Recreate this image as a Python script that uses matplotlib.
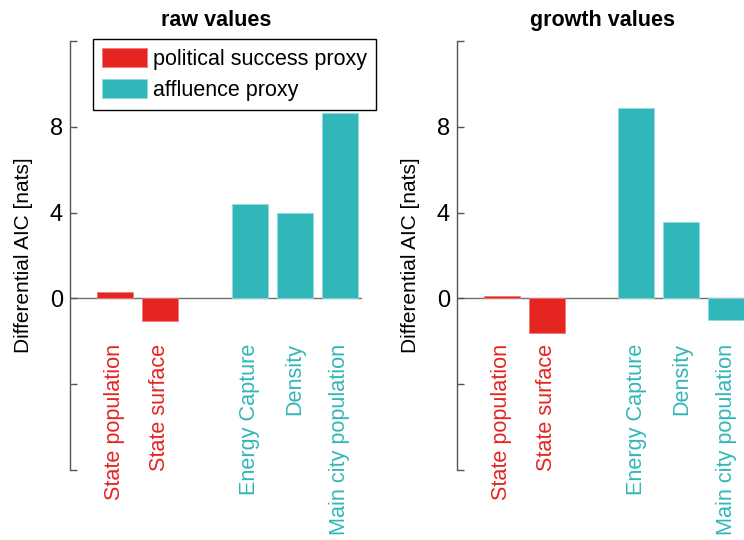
import numpy as np
import matplotlib
matplotlib.use("Agg")
import matplotlib.pyplot as plt
from matplotlib.patches import Patch

plt.rcParams['font.family'] = ['Liberation Sans', 'DejaVu Sans']

# proxies shown on the x axis (gap between the two groups)
categories = ['State population', 'State surface',
              'Energy Capture', 'Density', 'Main city population']
positions = [1, 2, 4, 5, 6]
groups = ['political', 'political', 'affluence', 'affluence', 'affluence']

# differential AIC [nats]
raw_values = [0.3, -1.05, 4.4, 4.0, 8.65]
growth_values = [0.1, -1.6, 8.87, 3.54, -1.0]

RED = '#e52522'
TEAL = '#31b7b9'
col = {'political': RED, 'affluence': TEAL}
edge = {'political': '#f07a78', 'affluence': '#8fdcdc'}

fig = plt.figure(figsize=(7.44, 5.40), dpi=100)
ax1 = fig.add_axes([70 / 744, 1 - 470 / 540, 292 / 744, 429 / 540])
ax2 = fig.add_axes([456.7 / 744, 1 - 470 / 540, 292 / 744, 429 / 540])


def panel(ax, vals, title):
    colors = [col[g] for g in groups]
    edges = [edge[g] for g in groups]
    ax.bar(positions, vals, width=0.8, color=colors, edgecolor=edges,
           linewidth=0.6, zorder=2)
    ax.axhline(0, color='#707070', lw=1.0, zorder=1)
    ax.set_xlim(0, 6.5)
    ax.set_ylim(-8, 12)
    ax.set_yticks([-8, -4, 0, 4, 8, 12])
    ax.set_yticklabels(['', '', '0', '4', '8', ''])
    ax.set_xticks([])
    for s in ['top', 'right', 'bottom']:
        ax.spines[s].set_visible(False)
    ax.spines['left'].set_color('#555555')
    ax.spines['left'].set_linewidth(1.0)
    ax.tick_params(axis='y', direction='in', length=5, width=1.0,
                   color='#555555', labelsize=17, pad=5)
    ax.set_ylabel('Differential AIC [nats]', fontsize=15)
    ax.yaxis.set_label_coords(-0.125, 0.5)
    ax.set_title(title, fontsize=15.5, fontweight='bold', pad=11)
    for x, name, g in zip(positions, categories, groups):
        ax.text(x, -2.1, name, rotation=90, ha='center', va='top',
                fontsize=15.6, color=col[g])


panel(ax1, raw_values, 'raw values')
panel(ax2, growth_values, 'growth values')

handles = [Patch(facecolor=RED, edgecolor='#f07a78', lw=0.6),
           Patch(facecolor=TEAL, edgecolor='#8fdcdc', lw=0.6)]
leg = ax1.legend(handles, ['political success proxy', 'affluence proxy'],
                 loc='upper left', bbox_to_anchor=(93 / 744, 1 - 39 / 540),
                 bbox_transform=fig.transFigure, borderaxespad=0,
                 fontsize=15.5, handlelength=2.1, handleheight=1.0,
                 handletextpad=0.25, labelspacing=0.4, borderpad=0.42,
                 fancybox=False, framealpha=1)
leg.get_frame().set_edgecolor('black')
leg.get_frame().set_linewidth(1.0)

fig.savefig('out.png', dpi=100)
